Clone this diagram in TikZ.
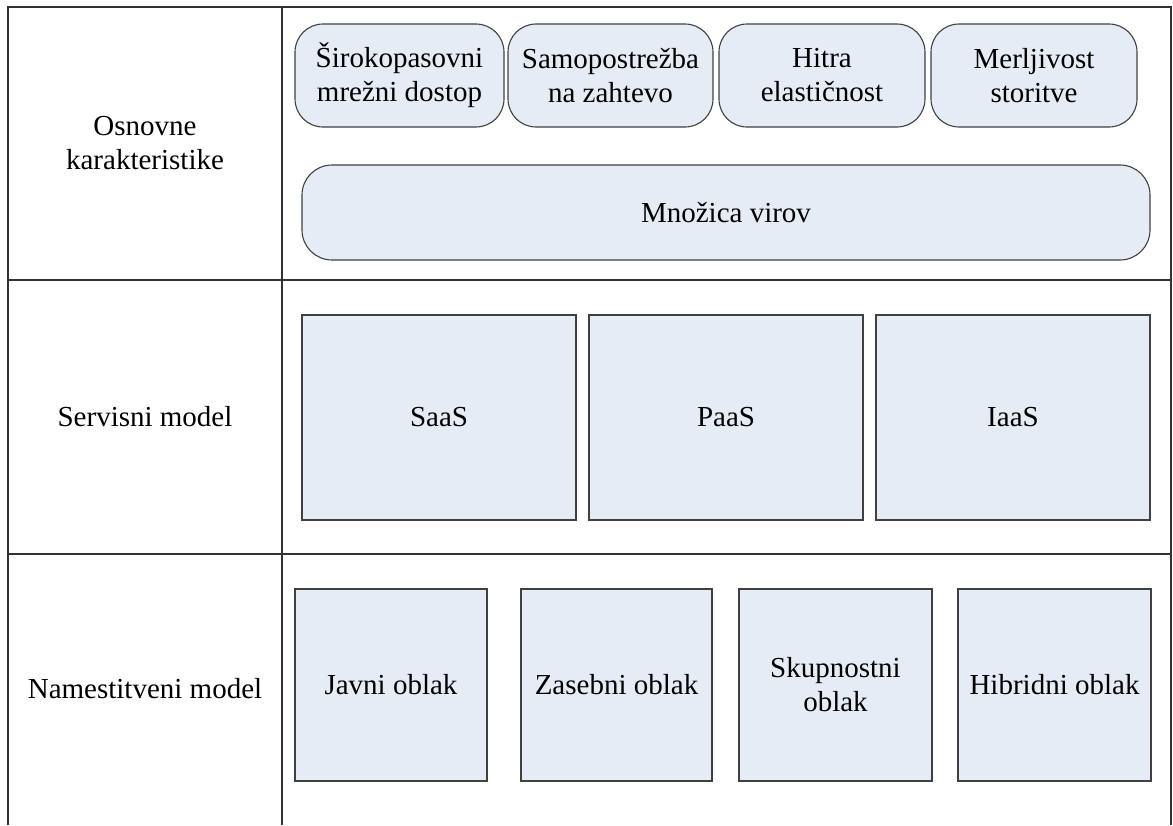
\documentclass[tikz,border=0pt]{standalone}
\usepackage{fontspec}
\setmainfont{Liberation Serif}
\definecolor{boxfill}{RGB}{230,236,246}
\definecolor{boxline}{RGB}{64,64,64}
\definecolor{gridline}{RGB}{50,50,50}
\begin{document}
\begin{tikzpicture}[x=1pt,y=-1pt,
  txt/.style={font=\fontsize{29}{34}\selectfont, align=center, text=black},
  rbox/.style={txt, draw=boxline, line width=1.1pt, fill=boxfill, rounded corners=28pt, inner sep=0pt},
  sbox/.style={txt, draw=boxline, line width=1.1pt, fill=boxfill, inner sep=0pt},
  grid/.style={draw=gridline, line width=1.4pt}]
\useasboundingbox[fill=white] (0,0) rectangle (1173,825);
% table
\coordinate (tl) at (8,7);
\coordinate (tr) at (1171,7);
\coordinate (bl) at (8,825);
\coordinate (br) at (1171,825);
\coordinate (ct) at (282,7);
\coordinate (cb) at (282,825);
\coordinate (r1l) at (8,280);
\coordinate (r1r) at (1171,280);
\coordinate (r2l) at (8,554);
\coordinate (r2r) at (1171,554);
\draw[grid] (bl) -- (tl) -- (tr) -- (br);
\draw[grid] (ct) -- (cb);
\draw[grid] (r1l) -- (r1r);
\draw[grid] (r2l) -- (r2r);
% row labels
\node[txt] (l1) at (145,143) {Osnovne\\karakteristike};
\node[txt] (l2) at (145,417) {Servisni model};
\node[txt] (l3) at (145,689) {Namestitveni model};
% row 1
\node[rbox, minimum width=209pt, minimum height=103pt] (b1) at (399.5,75.5) {Širokopasovni\\mrežni dostop};
\node[rbox, minimum width=205pt, minimum height=103pt] (b2) at (610.5,75.5) {Samopostrežba\\na zahtevo};
\node[rbox, minimum width=206pt, minimum height=103pt] (b3) at (822,75.5) {Hitra\\elastičnost};
\node[rbox, minimum width=206pt, minimum height=103pt] (b4) at (1034,75.5) {Merljivost\\storitve};
\node[rbox, minimum width=848pt, minimum height=95pt, rounded corners=30pt] (pool) at (726,212.5) {Množica virov};
% row 2
\node[sbox, minimum width=274pt, minimum height=205pt] (saas) at (439,417.5) {SaaS};
\node[sbox, minimum width=274pt, minimum height=205pt] (paas) at (726,417.5) {PaaS};
\node[sbox, minimum width=274pt, minimum height=205pt] (iaas) at (1013,417.5) {IaaS};
% row 3
\node[sbox, minimum width=192pt, minimum height=192pt] (javni) at (391,685) {Javni oblak};
\node[sbox, minimum width=191pt, minimum height=192pt] (zasebni) at (616.5,685) {Zasebni oblak};
\node[sbox, minimum width=193pt, minimum height=192pt] (skup) at (835.5,685) {Skupnostni\\oblak};
\node[sbox, minimum width=193pt, minimum height=192pt] (hib) at (1054.5,685) {Hibridni oblak};
\end{tikzpicture}
\end{document}
